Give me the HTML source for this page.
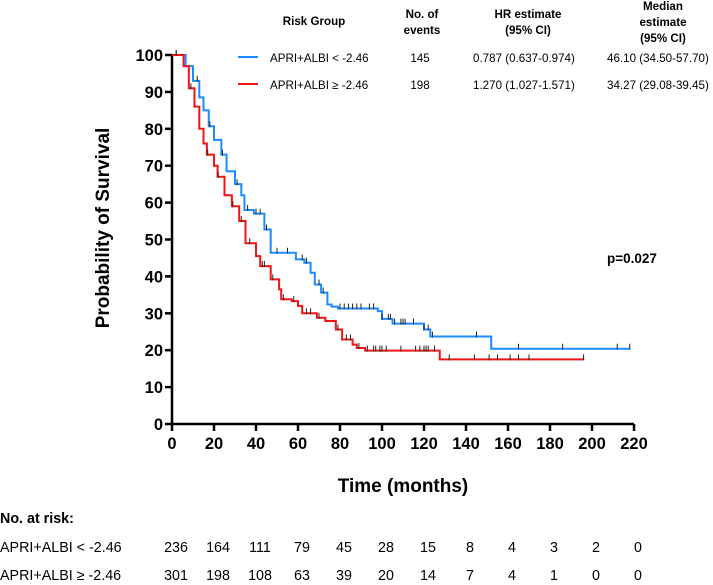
<!DOCTYPE html>
<html><head><meta charset="utf-8"><style>
body{margin:0;background:#fff;}
svg text{font-family:"Liberation Sans",Arial,sans-serif;}
</style></head><body>
<svg id="chart" width="713" height="580" viewBox="0 0 713 580" xmlns="http://www.w3.org/2000/svg">
<g id="axes"></g>
<g id="curves"></g>
<text transform="translate(109,228) rotate(-90)" text-anchor="middle" font-size="19" font-weight="bold">Probability of Survival</text>
<text x="403" y="492" text-anchor="middle" font-size="19" font-weight="bold">Time (months)</text>
<text x="607" y="263" font-size="13.5" font-weight="bold">p=0.027</text>
<g font-size="11.6">
<text x="314" y="25" text-anchor="middle" font-weight="bold">Risk Group</text>
<text x="422" y="18" text-anchor="middle" font-weight="bold">No. of</text>
<text x="422" y="34" text-anchor="middle" font-weight="bold">events</text>
<text x="528" y="18" text-anchor="middle" font-weight="bold">HR estimate</text>
<text x="528" y="34" text-anchor="middle" font-weight="bold">(95% CI)</text>
<text x="663" y="10" text-anchor="middle" font-weight="bold">Median</text>
<text x="663" y="26" text-anchor="middle" font-weight="bold">estimate</text>
<text x="663" y="42" text-anchor="middle" font-weight="bold">(95% CI)</text>
<line x1="238" y1="57" x2="258" y2="57" stroke="#1a8cff" stroke-width="2"/>
<text x="270" y="62">APRI+ALBI &lt; -2.46</text>
<text x="420" y="62" text-anchor="middle">145</text>
<text x="473" y="62">0.787 (0.637-0.974)</text>
<text x="607" y="62">46.10 (34.50-57.70)</text>
<line x1="238" y1="84" x2="258" y2="84" stroke="#f01414" stroke-width="2"/>
<text x="270" y="89">APRI+ALBI ≥ -2.46</text>
<text x="420" y="89" text-anchor="middle">198</text>
<text x="473" y="89">1.270 (1.027-1.571)</text>
<text x="607" y="89">34.27 (29.08-39.45)</text>
</g>
<g id="risk" font-size="14.3">
<text x="0" y="523" font-weight="bold">No. at risk:</text>
<text x="0" y="552">APRI+ALBI &lt; -2.46</text>
<text x="0" y="580">APRI+ALBI ≥ -2.46</text>
</g>
</svg>
<script>
const xTicks=[0,20,40,60,80,100,120,140,160,180,200,220];
const yTicks=[0,10,20,30,40,50,60,70,80,90,100];
const blueT=[0,3,6.5,10,13,15,17.5,20,23.5,26,30,33,34.5,39,44,47,59,63,66,68,71,74,76,79,98,100,105,120,123,152,218];
const blueS=[100,100,97,93,88.5,85,80.7,77,73,68.5,65,62,58,57,52.7,46.4,44.6,43.7,41,37.8,35.6,32.4,31.8,31.3,30.6,28.5,27.2,25.6,23.7,20.4,20.4];
const redT=[0,3,5.5,8,10.7,13,15,16.6,20,21.7,25,28.5,32,35,40,42,47,51,52,57,60,62,69,73,78,81,86,88,92,127.5,196];
const redS=[100,100,97,91,86,80,76,73,70,67,62,59,55,49,45.5,42.8,39.2,36.5,33.8,33.3,32,30,28.8,27.9,25.6,22.9,21.5,20.6,19.9,17.5,17.5];
const blueCens=[2,12,18,24,31,36,40,42,45,50,55,62,64,70,72,80,82,84,86,88,90,94,96,100,103,104,106,109,110,111,115,120,122,124,145,165,186,212,218];
const redCens=[2,9,17,22,29,33,37,43,44,48,53,58,64,66,70,79,83,85,89,93,96,97,99,100,102,109,116,118,120,121,122,125,132,144,151,155,161,165,170,196];
const riskLow=[236,164,111,79,45,28,15,8,4,3,2,0];
const riskHigh=[301,198,108,63,39,20,14,7,4,1,0,0];
const X=t=>172+t*(634-172)/220, Y=s=>424-s*(424-55)/100;
const NS="http://www.w3.org/2000/svg";
function mk(tag,attrs,parent){const e=document.createElementNS(NS,tag);for(const k in attrs)e.setAttribute(k,attrs[k]);parent.appendChild(e);return e;}
const ax=document.getElementById('axes');
let a=mk('path',{d:`M${X(0)},${Y(100)}V${Y(0)}H${X(220)}`,fill:'none',stroke:'#000','stroke-width':2.5},ax);

xTicks.forEach(t=>{
 const l=mk('line',{x1:X(t),x2:X(t),y1:Y(0),y2:Y(0)+7,stroke:'#000','stroke-width':2.5},ax);
 
 const tx=mk('text',{x:X(t),y:Y(0)+25,'text-anchor':'middle','font-size':16.5,'font-weight':'bold'},ax);
 tx.textContent=t;
});
yTicks.forEach(s=>{
 const l=mk('line',{x1:X(0)-7,x2:X(0),y1:Y(s),y2:Y(s),stroke:'#000','stroke-width':2.5},ax);
 
 const tx=mk('text',{x:X(0)-9,y:Y(s)+6,'text-anchor':'end','font-size':16.5,'font-weight':'bold'},ax);
 tx.textContent=s;
});
const cv=document.getElementById('curves');
function stepAt(T,S,t){let v=S[0];for(let i=0;i<T.length;i++){if(T[i]<=t)v=S[i];}return v;}
function draw(T,S,cens,color,name){
 let d=`M${X(T[0])},${Y(S[0])}`;
 for(let i=1;i<T.length;i++){d+=`H${X(T[i])}V${Y(S[i])}`;}
 const p=mk('path',{d:d,fill:'none',stroke:color,'stroke-width':2},cv);
 
 cens.forEach(c=>{const y=Y(stepAt(T,S,c));
  const m=mk('line',{x1:X(c),x2:X(c),y1:y-5,y2:y+1,stroke:'#222','stroke-width':1},cv);
  });
}
draw(blueT,blueS,blueCens,'#1a8cff','curve-low');
draw(redT,redS,redCens,'#f01414','curve-high');
const rk=document.getElementById('risk');
xTicks.forEach((t,i)=>{
 const a1=mk('text',{x:X(t)+4,y:552,'text-anchor':'middle'},rk);
 a1.textContent=riskLow[i];
 const a2=mk('text',{x:X(t)+4,y:580,'text-anchor':'middle'},rk);
 a2.textContent=riskHigh[i];
});
</script>
</body></html>
